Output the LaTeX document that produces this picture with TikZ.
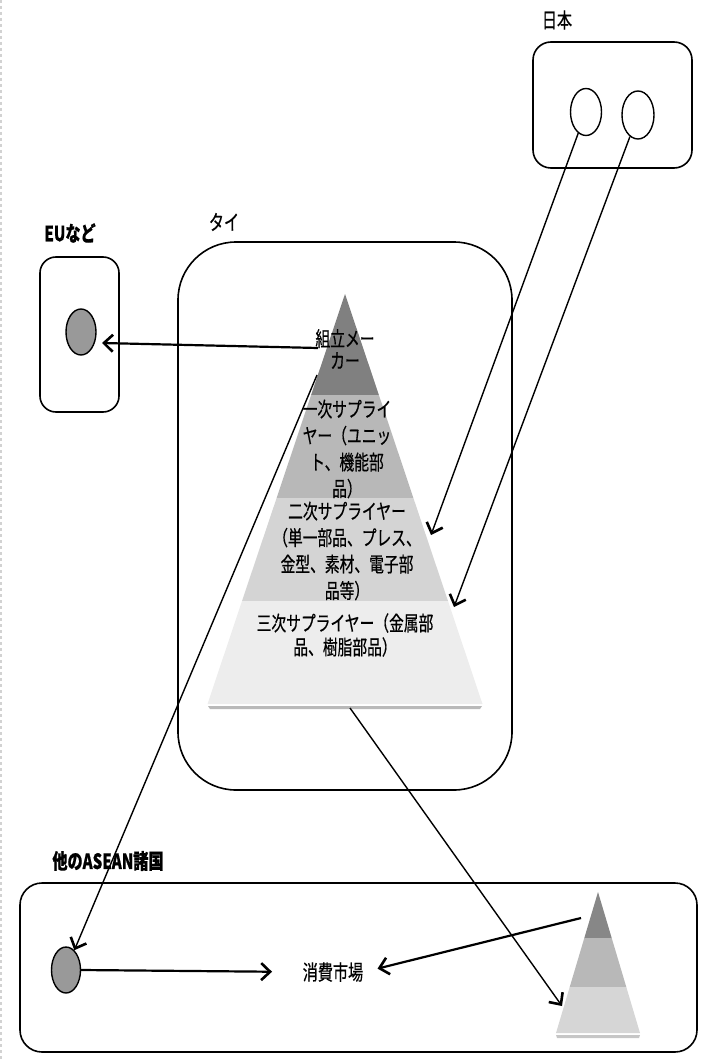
\documentclass[tikz,border=0pt]{standalone}
\usepackage{fontspec}
\setmainfont{Noto Sans CJK JP}[FakeStretch=0.72,FakeBold=0.5]
\usepackage{tikz}
\usetikzlibrary{shapes}
\usetikzlibrary{arrows.meta}
\tikzstyle{arrow}=[-{Straight Barb[length=9pt,width=17pt,line width=2.6pt]}]
\tikzstyle{region}=[draw,line width=1.6pt]
\tikzstyle{firm}=[draw,ellipse,line width=1.4pt,inner sep=0pt]
\tikzstyle{label}=[font=\fontsize{21}{24}\selectfont,inner sep=0pt]
\tikzstyle{tier}=[align=center,inner sep=0pt,font=\fontsize{20.5}{26.5}\selectfont]
\tikzset{every picture/.style={
    line width=1.4pt
  }
}

\begin{document}
\begin{tikzpicture}[x=1pt,y=-1pt]
  \useasboundingbox (0,0) rectangle (712,1059);
  \draw[gray!35,dashed,line width=2pt] (1,0) -- (1,1059);
  % regions
  \draw[region,rounded corners=18pt] (533,42) rectangle (692,168);
  \draw[region,rounded corners=16pt] (40,257) rectangle (119,412);
  \draw[region,rounded corners=58pt] (178,242) rectangle (512,790);
  \draw[region,rounded corners=22pt] (20,883) rectangle (697,1052);
  \node[label] (jp) at (557,20) {日本};
  \node[label,font=\fontsize{21}{24}\selectfont\bfseries] (eu) at (70,233) {EUなど};
  \node[label] (th) at (224,222) {タイ};
  \node[label,font=\fontsize{21}{24}\selectfont\bfseries] (asean) at (108,861) {他のASEAN諸国};
  % pyramid in Thailand
  \fill[gray!55] (208,706) -- (482,706) -- (480,709) -- (210,709) -- cycle;
  \fill[black!50] (345,294) -- (378.9,395) -- (311.1,395) -- cycle;
  \fill[black!28] (311.1,395) -- (378.9,395) -- (413.4,498) -- (276.6,498) -- cycle;
  \fill[black!17] (276.6,498) -- (413.4,498) -- (448,601) -- (242,601) -- cycle;
  \fill[black!7] (242,601) -- (448,601) -- (482.5,704) -- (207.5,704) -- cycle;
  \node[tier,font=\fontsize{20.5}{22}\selectfont] (assembler) at (345,349) {組立メー\\カー};
  \node[tier] (first) at (347,449) {一次サプライ\\ヤー（ユニッ\\ト、機能部\\品）};
  \node[tier] (second) at (347,551) {二次サプライヤー\\（単一部品、プレス、\\金型、素材、電子部\\品等）};
  \node[tier,font=\fontsize{20.5}{24}\selectfont] (third) at (345,635) {三次サプライヤー（金属部\\品、樹脂部品）};
  % small pyramid in ASEAN
  \fill[gray!45] (556,1035) -- (640,1035) -- (639,1038) -- (557,1038) -- cycle;
  \fill[black!47] (598,892) -- (611.7,938) -- (584.3,938) -- cycle;
  \fill[black!28] (584.3,938) -- (611.7,938) -- (626.3,987) -- (569.7,987) -- cycle;
  \fill[black!16] (569.7,987) -- (626.3,987) -- (640,1033) -- (556,1033) -- cycle;
  % firms
  \node[firm,minimum width=31pt,minimum height=47pt] (jpA) at (586,112) {};
  \node[firm,minimum width=32pt,minimum height=48pt] (jpB) at (638,115) {};
  \node[firm,fill=black!40,minimum width=30pt,minimum height=46pt] (euFirm) at (81,332) {};
  \node[firm,fill=black!40,minimum width=29pt,minimum height=46pt] (aseanFirm) at (66,970) {};
  \node[label,font=\fontsize{21}{24}\selectfont] (market) at (333,972) {消費市場};
  \coordinate (asmOut) at (318,348);
  \coordinate (euIn) at (102,343);
  \coordinate (asmDown) at (317,375);
  \coordinate (secondIn) at (431,535);
  \coordinate (thirdIn) at (454,607);
  \coordinate (baseOut) at (350,708);
  \coordinate (smallIn) at (562,1006);
  \coordinate (smallOut) at (581,918);
  % flows
  \draw[arrow,line width=2.2pt] (asmOut) -- (euIn);
  \draw[arrow] (jpA) -- (secondIn);
  \draw[arrow] (jpB) -- (thirdIn);
  \draw[arrow] (asmDown) -- (aseanFirm);
  \draw[arrow] (baseOut) -- (smallIn);
  \draw[arrow,line width=2.2pt,shorten >=30pt] (aseanFirm.east) -- (market.west);
  \draw[arrow,line width=2.2pt,shorten >=14pt] (smallOut) -- (market.east);
\end{tikzpicture}
\end{document}
